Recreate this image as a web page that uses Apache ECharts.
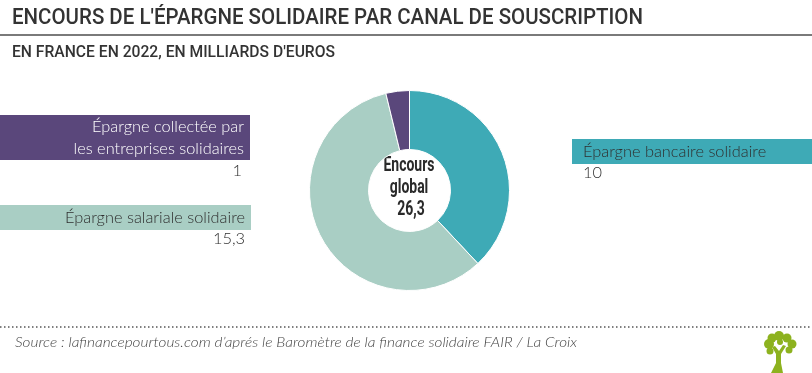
<!DOCTYPE html>
<html><head><meta charset="utf-8">
<script src="https://cdn.jsdelivr.net/npm/echarts@6/dist/echarts.min.js"></script>
<style>html,body{margin:0;padding:0;background:#fff}#c{width:812px;height:373px}</style>
</head><body><div id="c"></div>
<script>
// ---- data ----
const categories = ['Épargne bancaire solidaire', 'Épargne salariale solidaire', 'Épargne collectée par\nles entreprises solidaires'];
const values = [10, 15.3, 1];
const colors = ['#3eaab6', '#a9cec4', '#5a477b'];
const titleText = "ENCOURS DE L'ÉPARGNE SOLIDAIRE PAR CANAL DE SOUSCRIPTION";
const subtitleText = "EN FRANCE EN 2022, EN MILLIARDS D'EUROS";
const sourceText = "Source : lafinancepourtous.com d’aprés le Baromètre de la finance solidaire FAIR / La Croix";
const centerLines = ['Encours', 'global'];

function fr(v) { return String(Math.round(v * 10) / 10).replace('.', ','); }
const total = values.reduce((a, b) => a + b, 0);

const ctx = document.createElement('canvas').getContext('2d');
function fitScale(text, font, target) { ctx.font = font; return target / ctx.measureText(text).width; }

const titleFont = '500 22px Roboto';
const subFont = '500 16px Roboto';
const srcFont = 'italic 300 13px Lato';
const centerFont = 'bold 20px Roboto';
const lblFont = '300 15px Lato';

const sTitle = fitScale(titleText, titleFont, 631);
const sSub = fitScale(subtitleText, subFont, 323);
const sSrc = fitScale(sourceText, srcFont, 562);
const sCenter = fitScale(centerLines[0], centerFont, 51);
const sLbl = fitScale(categories[1], lblFont, 180);

function txt(text, x, y, font, color, align, scale) {
  return { type: 'text', x: x, y: y, scaleX: scale, silent: true,
    style: { text: text, font: font, fill: color, align: align || 'left', verticalAlign: 'middle' } };
}

// band layout (positions only)
const bands = [
  { x: 572, y: 139, w: 240, h: 25, tx: 583, ty: 152, vx: 583, vy: 173, align: 'left', tc: '#2f2f2f' },
  { x: 0, y: 205, w: 251, h: 25, tx: 245, ty: 218, vx: 245, vy: 239, align: 'right', tc: '#2f2f2f' },
  { x: 0, y: 115, w: 250, h: 45, tx: 244, ty: 138, vx: 242, vy: 171, align: 'right', tc: '#ffffff' }
];

const graphics = [];
graphics.push(txt(titleText, 12, 18, titleFont, '#333', 'left', sTitle));
graphics.push({ type: 'line', silent: true, shape: { x1: 0, y1: 35, x2: 812, y2: 35 }, style: { stroke: '#7a7a7a', lineWidth: 2 } });
graphics.push(txt(subtitleText, 12, 53, subFont, '#333', 'left', sSub));

categories.forEach((c, i) => {
  const b = bands[i];
  graphics.push({ type: 'rect', silent: true, shape: { x: b.x, y: b.y, width: b.w, height: b.h }, style: { fill: colors[i] } });
  graphics.push({ type: 'text', x: b.tx, y: b.ty, scaleX: sLbl, silent: true,
    style: { text: c, font: lblFont, fill: b.tc, align: b.align, verticalAlign: 'middle', lineHeight: 22 } });
  graphics.push(txt(fr(values[i]), b.vx, b.vy, lblFont, '#2f2f2f', b.align, sLbl));
});

// centre text
graphics.push(txt(centerLines[0], 409, 166, centerFont, '#2a2a2a', 'center', sCenter));
graphics.push(txt(centerLines[1], 409, 188, centerFont, '#2a2a2a', 'center', sCenter));
graphics.push(txt(fr(total), 411, 210, centerFont, '#2a2a2a', 'center', sCenter));

// dotted separator & source
graphics.push({ type: 'line', silent: true, shape: { x1: 0, y1: 327, x2: 812, y2: 327 }, style: { stroke: '#555', lineWidth: 1.5, lineDash: [1.5, 2.5] } });
graphics.push(txt(sourceText, 15, 343, srcFont, '#444', 'left', sSrc));

// tree logo
const treeC = '#8db21f';
graphics.push({ type: 'polygon', silent: true, shape: { points: [[771, 373], [783, 373], [781, 363], [781, 354], [786, 346], [783, 345], [779, 351], [775, 346], [772, 347], [776, 354], [776, 363]] }, style: { fill: treeC } });
[[769, 344, 5], [772, 338, 4.5], [779, 336, 5], [787, 338, 4.5], [792, 344, 4.5], [789, 350, 3.5], [770, 351, 3.5], [780, 342, 3]].forEach(p => {
  graphics.push({ type: 'circle', silent: true, shape: { cx: p[0], cy: p[1], r: p[2] }, style: { fill: treeC } });
});

const chart = echarts.init(document.getElementById('c'), null, { renderer: 'canvas' });
chart.setOption({
  animation: false,
  backgroundColor: '#fff',
  series: [{
    type: 'pie',
    silent: true,
    center: [409.5, 190.5],
    radius: [41, 100],
    startAngle: 90,
    clockwise: true,
    label: { show: false },
    labelLine: { show: false },
    itemStyle: { borderColor: '#fff', borderWidth: 1 },
    data: categories.map((c, i) => ({ name: c, value: values[i], itemStyle: { color: colors[i] } }))
  }],
  graphic: graphics
});
</script></body></html>
